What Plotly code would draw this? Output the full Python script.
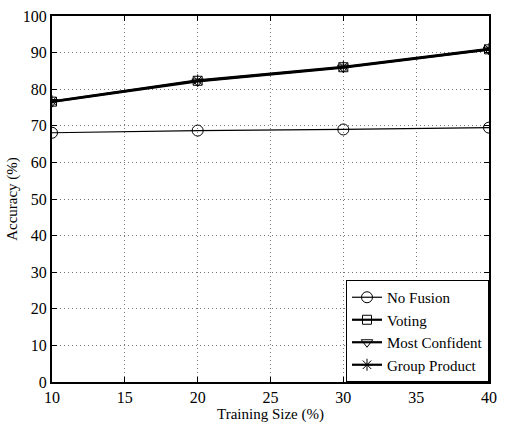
import plotly.graph_objects as go

train_size = [10, 20, 30, 40]
no_fusion = [68.1, 68.7, 69.0, 69.5]
voting = [76.6, 82.3, 86.0, 90.9]
most_confident = [76.5, 82.1, 85.9, 90.8]
group_product = [76.7, 82.4, 86.1, 91.0]

series = [
    ("No Fusion", no_fusion, "circle-open", 1.2, 11),
    ("Voting", voting, "square-open", 2.2, 9),
    ("Most Confident", most_confident, "triangle-down-open", 2.2, 10),
    ("Group Product", group_product, "asterisk-open", 2.2, 10),
]

fig = go.Figure()
for name, vals, sym, lw, ms in series:
    fig.add_trace(go.Scatter(
        x=train_size, y=vals, name=name, mode="lines+markers",
        line=dict(color="black", width=lw),
        marker=dict(symbol=sym, size=ms, color="black", line=dict(color="black", width=1)),
    ))

font = "Times New Roman, Liberation Serif, serif"
fig.update_layout(
    width=505, height=425,
    margin=dict(l=52, r=9, t=8, b=43),
    paper_bgcolor="white", plot_bgcolor="white",
    font=dict(family=font, size=16, color="black"),
    showlegend=True,
    legend=dict(
        x=1, y=0, xanchor="right", yanchor="bottom",
        bgcolor="white", bordercolor="black", borderwidth=1,
        font=dict(family=font, size=15), tracegroupgap=0,
        itemwidth=30,
    ),
)
fig.update_xaxes(
    range=[10, 40], tickvals=[10, 15, 20, 25, 30, 35, 40],
    showgrid=True, gridcolor="#777777", griddash="1px,3px", gridwidth=1,
    showline=True, linecolor="black", linewidth=2, mirror="ticks",
    ticks="inside", ticklen=5, tickcolor="black",
    zeroline=False,
    title=dict(text="Training Size (%)", font=dict(family=font, size=15), standoff=0),
    tickfont=dict(family=font, size=16),
)
fig.update_yaxes(
    range=[0, 100], tickvals=list(range(0, 101, 10)),
    showgrid=True, gridcolor="#777777", griddash="1px,3px", gridwidth=1,
    showline=True, linecolor="black", linewidth=2, mirror="ticks",
    ticks="inside", ticklen=5, tickcolor="black",
    zeroline=False,
    title=dict(text="Accuracy (%)", font=dict(family=font, size=15), standoff=2),
    tickfont=dict(family=font, size=16),
)
fig.write_html("out.html")
